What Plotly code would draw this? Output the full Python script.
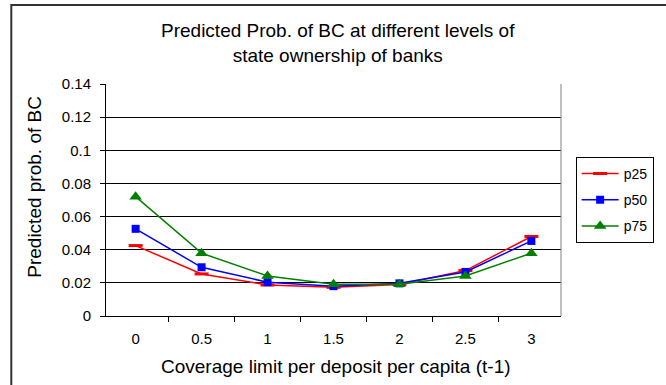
import plotly.graph_objects as go

categories = ["0", "0.5", "1", "1.5", "2", "2.5", "3"]
p25 = [0.0425, 0.0254, 0.0187, 0.0173, 0.0190, 0.0274, 0.0480]
p50 = [0.0526, 0.0294, 0.0204, 0.0180, 0.0197, 0.0266, 0.0453]
p75 = [0.0720, 0.0379, 0.0242, 0.0191, 0.0191, 0.0242, 0.0379]
y_ticks = [0, 0.02, 0.04, 0.06, 0.08, 0.1, 0.12, 0.14]
y_tick_labels = ["0", "0.02", "0.04", "0.06", "0.08", "0.1", "0.12", "0.14"]

FONT = "Liberation Sans, Arial, sans-serif"
L, T, PW, PH = 106, 84, 466, 232

def px_x(x):
    return (x - L) / PW

def px_y(y):
    return (T + PH - y) / PH

fig = go.Figure()
fig.add_trace(go.Scatter(x=categories, y=p25, name="p25", mode="lines+markers",
                         legendgroup="a",
                         line=dict(color="#ff0000", width=1.5),
                         marker=dict(symbol="line-ew", size=10, color="#ff0000",
                                     line=dict(color="#ff0000", width=3))))
fig.add_trace(go.Scatter(x=categories, y=p50, name="p50", mode="lines+markers",
                         legendgroup="b",
                         line=dict(color="#0000ff", width=1.5),
                         marker=dict(symbol="square", size=8, color="#0000ff")))
fig.add_trace(go.Scatter(x=categories, y=p75, name="p75", mode="lines+markers",
                         legendgroup="c",
                         line=dict(color="#008000", width=1.5),
                         marker=dict(symbol="triangle-up", size=11, color="#008000")))

fig.update_layout(
    width=666, height=385,
    margin=dict(l=L, r=666 - L - PW, t=T, b=385 - T - PH),
    paper_bgcolor="white", plot_bgcolor="white",
    font=dict(family=FONT, size=15, color="black"),
    showlegend=True,
    legend=dict(x=px_x(587), y=px_y(157), xanchor="left", yanchor="top",
                bordercolor="black", borderwidth=1, bgcolor="white",
                font=dict(size=14), tracegroupgap=5, itemwidth=37),
    xaxis=dict(type="category", tickson="boundaries", ticks="outside", ticklen=5,
               tickcolor="black", showline=True, linecolor="black", linewidth=1,
               showgrid=False, tickfont=dict(size=15), ticklabelstandoff=9),
    yaxis=dict(range=[0, 0.14], tickvals=y_ticks, ticktext=y_tick_labels,
               ticks="outside", ticklen=5, tickcolor="black", showline=True,
               linecolor="black", linewidth=1, showgrid=True, gridcolor="black",
               gridwidth=1, zeroline=False, tickfont=dict(size=15),
               ticklabelstandoff=6),
    annotations=[
        dict(text="Predicted Prob. of BC at different levels of<br>state ownership of banks",
             xref="paper", yref="paper", x=px_x(344), y=px_y(43), xanchor="center",
             yanchor="middle", showarrow=False, font=dict(size=19), align="center"),
        dict(text="Predicted prob. of BC", xref="paper", yref="paper",
             x=px_x(32), y=px_y(187), xanchor="center", yanchor="middle",
             textangle=-90, showarrow=False, font=dict(size=19)),
        dict(text="Coverage limit per deposit per capita (t-1)", xref="paper", yref="paper",
             x=px_x(342), y=px_y(366), xanchor="center", yanchor="middle",
             showarrow=False, font=dict(size=19)),
    ],
    shapes=[
        dict(type="line", xref="paper", yref="paper", x0=1, x1=1, y0=0, y1=1,
             line=dict(color="#808080", width=1)),
        dict(type="rect", xref="paper", yref="paper",
             x0=px_x(9), x1=1.3, y0=px_y(5), y1=-0.5,
             line=dict(color="#333333", width=2), layer="below"),
    ],
)

fig.write_html("out.html", config={"displayModeBar": False},
               post_script="document.body.style.margin='0px';")
